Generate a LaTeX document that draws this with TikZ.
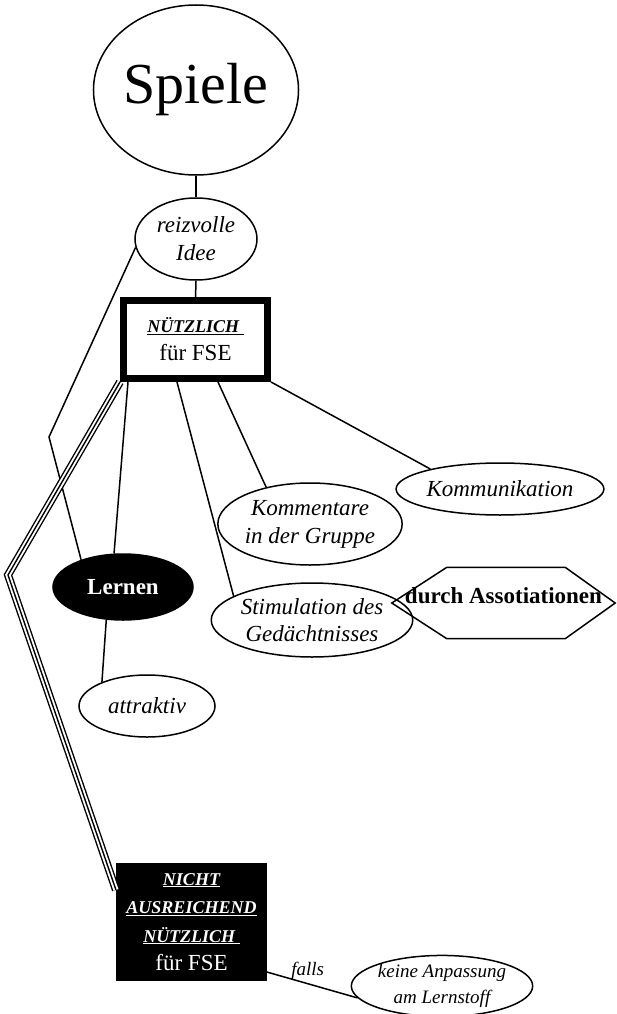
\documentclass[tikz,border=0pt]{standalone}
\usepackage{fontspec}
\setmainfont{Liberation Serif}
\usetikzlibrary{shapes.geometric, positioning}

\begin{document}
\begin{tikzpicture}[
    x=1pt, y=-1pt,
    oval/.style     = {draw, ellipse, line width=1.5pt, inner sep=0pt,
                       align=center, font=\fontsize{23}{28}\selectfont\itshape},
    darkoval/.style = {oval, fill=black, text=white,
                       font=\fontsize{23}{28}\selectfont\bfseries},
    keybox/.style   = {draw, line width=7pt, minimum width=144pt,
                       minimum height=78pt, inner sep=0pt, align=center,
                       font=\fontsize{18}{28}\selectfont},
    darkbox/.style  = {draw, fill=black, text=white, line width=1.1pt,
                       minimum width=150pt, minimum height=117pt,
                       inner sep=0pt, align=center,
                       font=\fontsize{18}{28.5}\selectfont},
    hexa/.style     = {minimum width=223pt, minimum height=71pt, inner sep=0pt,
                       text height=15pt, text depth=15pt,
                       font=\fontsize{23}{26}\selectfont\bfseries},
    link/.style     = {draw, line width=1.5pt},
    triple/.style   = {preaction={draw=black, line width=8pt},
                       draw=white, line width=5.2pt,
                       postaction={draw=black, line width=1.4pt}},
    lab/.style      = {font=\fontsize{19}{22}\selectfont\itshape, inner sep=3pt}
]
\useasboundingbox (0,0) rectangle (617,1014);

% ---------------- top ----------------
\node[oval, minimum width=196pt, minimum height=170pt,
      font=\fontsize{58}{60}\selectfont] (spiele) at (196,90) {Spiele};
\node[oval, minimum width=122pt, minimum height=82pt] (reiz) at (196,239)
      {reizvolle\\Idee};
\node[keybox] (nutz) at (195.5,339.5)
      {{\bfseries\itshape\underline{NÜTZLICH\ }}\\
       {\fontsize{23}{28}\selectfont für FSE}};

% ---------------- branches ----------------
\node[oval, minimum width=190pt, minimum height=52pt] (kommu) at (500,489)
      {Kommunikation};
\node[oval, minimum width=184pt, minimum height=82pt] (komm) at (310,524)
      {Kommentare\\in der Gruppe};
\node[darkoval, minimum width=140pt, minimum height=66pt] (lernen) at (123,587)
      {Lernen};
\node[oval, minimum width=200pt, minimum height=74pt,
      font=\fontsize{23}{27}\selectfont\itshape] (stim) at (312,620)
      {Stimulation des\\Gedächtnisses};
\node[hexa] (assoz) at (503.5,603) {durch Assotiationen};
\node[oval, minimum width=136pt, minimum height=62pt] (attr) at (147,706)
      {attraktiv};

% ---------------- bottom ----------------
\node[darkbox] (nicht) at (191.5,922)
      {{\bfseries\itshape\underline{NICHT}}\\
       {\bfseries\itshape\underline{AUSREICHEND}}\\
       {\bfseries\itshape\underline{NÜTZLICH\ }}\\
       {\fontsize{23}{27}\selectfont für FSE}};
\node[oval, minimum width=176pt, minimum height=56pt,
      font=\fontsize{19}{26}\selectfont\itshape] (keine) at (442,986)
      {keine Anpassung\\am Lernstoff};

% hexagon outline round "durch Assotiationen"
\draw[link] (assoz.west) -- ([xshift=55pt]assoz.north west)
            -- ([xshift=-50pt]assoz.north east) -- (assoz.east)
            -- ([xshift=-50pt]assoz.south east)
            -- ([xshift=55pt]assoz.south west) -- cycle;

% routing helper coordinates
\coordinate (bendL) at (49,437);
\coordinate (bendT) at (8,575);

% ============= connectors =============
\draw[link] (spiele) -- (reiz);
\draw[link] (reiz) -- (nutz);
\draw[link] (reiz.188) -- (bendL) -- (lernen.147);
\draw[link] ([xshift=-67.5pt]nutz.south) -- (lernen.105);
\draw[link] ([xshift=-18.5pt]nutz.south) -- (stim.163);
\draw[link] ([xshift=22.5pt]nutz.south) -- (komm.140);
\draw[link] (nutz.south east) -- (kommu.164);
\draw[link] (lernen.243) -- (attr.152);

% NÜTZLICH -> NICHT AUSREICHEND (triple line)
\draw[triple] (nutz.south west) -- (bendT) -- ([yshift=-27pt]nicht.north west);

% NICHT AUSREICHEND -> keine Anpassung
\draw[link] ([yshift=9pt]nicht.south east) --
            node[lab, above, pos=0.45]{falls} (keine.188);

\end{tikzpicture}
\end{document}
